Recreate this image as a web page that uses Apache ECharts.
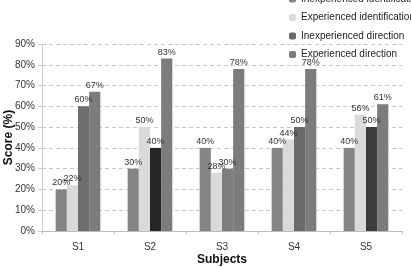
<!DOCTYPE html>
<html>
<head>
<meta charset="UTF-8">
<title>Scores</title>
<script src="https://cdn.jsdelivr.net/npm/echarts@6/dist/echarts.min.js"></script>
</head>
<body style="margin:0">
<div id="container" style="width:411px;height:267px"></div>
<script>
var subjects = ['S1', 'S2', 'S3', 'S4', 'S5'];
var seriesNames = ['Inexperienced identification', 'Experienced identification',
                   'Inexperienced direction', 'Experienced direction'];
var inexpIdent = [20, 30, 40, 40, 40];
var expIdent = [22, 50, 28, 44, 56];
var inexpDir = [60, 40, 30, 50, 50];
var expDir = [67, 83, 78, 78, 61];

// the third series is shaded differently in every group of the source
var inexpDirShades = ['#6e6e6e', '#262626', '#7d7d7d', '#6a6a6a', '#3c3c3c'];
var seriesColors = ['#858585', '#dadada', '#6a6a6a', '#7c7c7c'];

var font = 'Liberation Sans, Arial, sans-serif';
var chart = echarts.init(document.getElementById('container'));

function makeSeries(name, values, color, shades) {
    return {
        name: name,
        type: 'bar',
        barGap: '0%',
        barCategoryGap: '38%',
        itemStyle: {color: color},
        label: {
            show: true, position: 'top', distance: 2,
            formatter: '{c}%', fontSize: 9, color: '#333', fontFamily: font
        },
        data: values.map(function (v, i) {
            return shades ? {value: v, itemStyle: {color: shades[i]}} : v;
        })
    };
}

chart.setOption({
    animation: false,
    textStyle: {fontFamily: font},
    grid: {left: 42, right: 9, top: 44, bottom: 36, containLabel: false, outerBoundsMode: 'none'},
    legend: {
        orient: 'vertical', left: 284, top: -11,
        itemWidth: 7, itemHeight: 7, itemGap: 8.5,
        textStyle: {fontSize: 10, color: '#222', fontFamily: font},
        data: seriesNames
    },
    xAxis: {
        type: 'category', data: subjects,
        name: 'Subjects', nameLocation: 'middle', nameGap: 23, nameMoveOverlap: false,
        nameTextStyle: {fontSize: 12, fontWeight: 'bold', color: '#111'},
        axisLine: {lineStyle: {color: '#bbb'}},
        axisTick: {show: true, length: 3, lineStyle: {color: '#bbb'}},
        axisLabel: {fontSize: 10, color: '#333', margin: 11},
        splitLine: {show: false}
    },
    yAxis: {
        type: 'value', min: 0, max: 90, interval: 10,
        name: 'Score (%)', nameLocation: 'middle', nameGap: 27, nameMoveOverlap: false,
        nameTextStyle: {fontSize: 12, fontWeight: 'bold', color: '#111'},
        axisLine: {show: true, lineStyle: {color: '#ccc'}},
        axisTick: {show: true, length: 4, lineStyle: {color: '#ccc'}},
        axisLabel: {formatter: '{value}%', fontSize: 10, color: '#333', margin: 7},
        splitLine: {lineStyle: {type: [4, 3], color: '#c8c8c8'}}
    },
    series: [
        makeSeries(seriesNames[0], inexpIdent, seriesColors[0]),
        makeSeries(seriesNames[1], expIdent, seriesColors[1]),
        makeSeries(seriesNames[2], inexpDir, seriesColors[2], inexpDirShades),
        makeSeries(seriesNames[3], expDir, seriesColors[3])
    ]
});
</script>
</body>
</html>
